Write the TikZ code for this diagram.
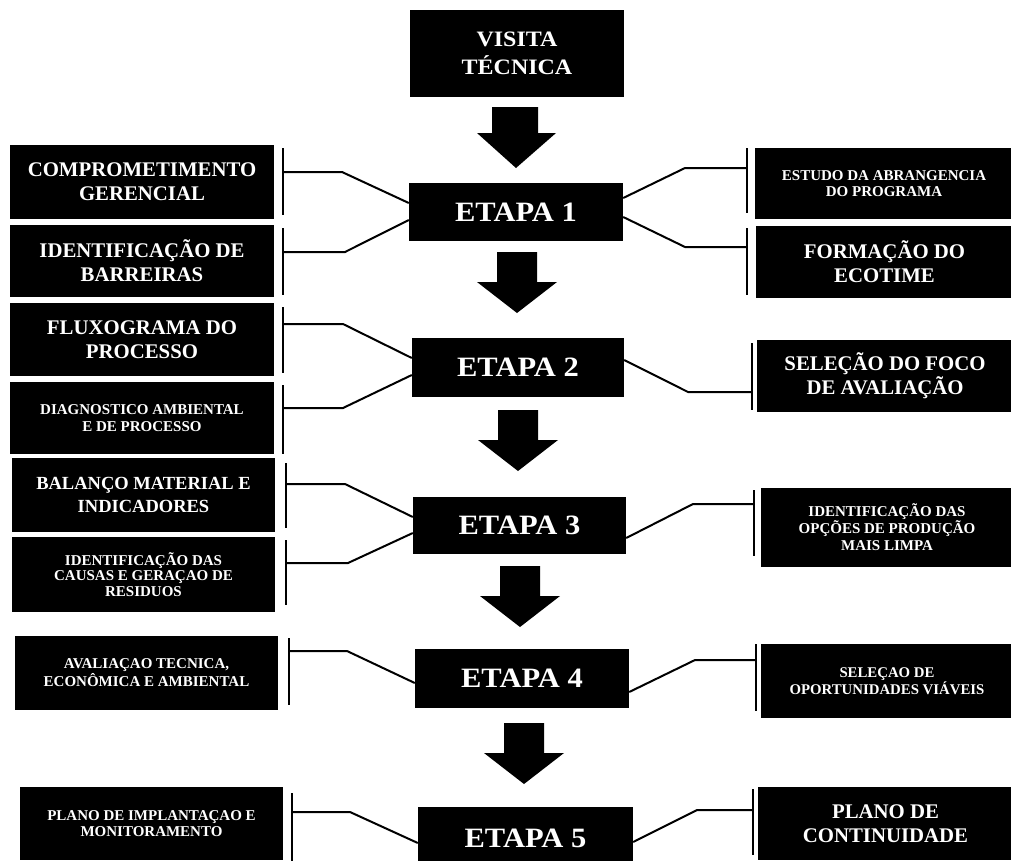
\documentclass[tikz,border=0pt]{standalone}
\usepackage{fontspec}
\setmainfont{Liberation Serif}
\newfontfamily\widefont{Liberation Serif}[FakeStretch=1.09]
\usetikzlibrary{calc}
\tikzset{
  blk/.style={fill=black, text=white, inner sep=0pt, align=center},
  etapa/.style={blk, font=\widefont\bfseries\fontsize{28}{32}\selectfont},
  big/.style={blk, font=\bfseries\fontsize{20.8}{24}\selectfont},
  small/.style={blk, font=\bfseries\fontsize{15}{17}\selectfont},
  conn/.style={line width=2pt, line join=miter},
  brk/.style={line width=2.6pt},
  pics/downarrow/.style={code={
    \fill (-20,0) -- (20,0) -- (20,30) -- (40,30) -- (0,61) -- (-40,30) -- (-20,30) -- cycle;}}
}
\begin{document}
\begin{tikzpicture}[x=1pt,y=-1pt]
\useasboundingbox (0,0) rectangle (1011,860);

% central column
\node[blk, font=\widefont\bfseries\fontsize{22}{28}\selectfont, minimum width=214pt, minimum height=87pt] (vis) at (517,53.5) {VISITA\\TÉCNICA};
\node[etapa, minimum width=214pt, minimum height=58pt] (e1) at (516,212) {ETAPA 1};
\node[etapa, minimum width=212pt, minimum height=59pt] (e2) at (518,367.5) {ETAPA 2};
\node[etapa, minimum width=213pt, minimum height=57pt] (e3) at (519.5,525.5) {ETAPA 3};
\node[etapa, minimum width=214pt, minimum height=59pt] (e4) at (522,678.5) {ETAPA 4};
\node[etapa, minimum width=215pt, minimum height=63pt] (e5) at (525.5,838.5) {ETAPA 5};

% block arrows
\fill (492,107) -- (538,107) -- (538,133) -- (556,133) -- (516,168) -- (477,133) -- (492,133) -- cycle;
\pic at (517,252) {downarrow};
\pic at (518,410) {downarrow};
\pic at (520,566) {downarrow};
\pic at (524,723) {downarrow};

% left boxes
\node[big, minimum width=264pt, minimum height=74pt] (l1a) at (142,182) {COMPROMETIMENTO\\GERENCIAL};
\node[big, minimum width=264pt, minimum height=72pt] (l1b) at (142,261) {IDENTIFICAÇÃO DE\\BARREIRAS};
\node[big, minimum width=264pt, minimum height=73pt] (l2a) at (142,339.5) {FLUXOGRAMA DO\\PROCESSO};
\node[small, minimum width=264pt, minimum height=72pt] (l2b) at (142,418) {DIAGNOSTICO AMBIENTAL\\E DE PROCESSO};
\node[blk, font=\bfseries\fontsize{18.5}{23}\selectfont, minimum width=263pt, minimum height=74pt] (l3a) at (143.5,495) {BALANÇO MATERIAL E\\INDICADORES};
\node[blk, font=\bfseries\fontsize{15}{15.5}\selectfont, minimum width=263pt, minimum height=75pt] (l3b) at (143.5,574.5) {IDENTIFICAÇÃO DAS\\CAUSAS E GERAÇAO DE\\RESIDUOS};
\node[blk, font=\bfseries\fontsize{15}{18}\selectfont, minimum width=263pt, minimum height=74pt] (l4) at (146.5,673) {AVALIAÇAO TECNICA,\\ECONÔMICA E AMBIENTAL};
\node[blk, font=\bfseries\fontsize{15}{16}\selectfont, minimum width=263pt, minimum height=73pt] (l5) at (151.5,823.5) {PLANO DE IMPLANTAÇAO E\\MONITORAMENTO};

% right boxes
\node[blk, font=\bfseries\fontsize{15}{16.5}\selectfont, minimum width=258pt, minimum height=71pt] (r1a) at (884,183.5) {ESTUDO DA ABRANGENCIA\\DO PROGRAMA};
\node[big, minimum width=257pt, minimum height=72pt] (r1b) at (884.5,262) {FORMAÇÃO DO\\ECOTIME};
\node[big, minimum width=256pt, minimum height=72pt] (r2) at (885,376) {SELEÇÃO DO FOCO\\DE AVALIAÇÃO};
\node[blk, font=\bfseries\fontsize{15}{17}\selectfont, minimum width=252pt, minimum height=79pt] (r3) at (887,527.5) {IDENTIFICAÇÃO DAS\\OPÇÕES DE PRODUÇÃO\\MAIS LIMPA};
\node[blk, font=\bfseries\fontsize{14.8}{16.5}\selectfont, minimum width=252pt, minimum height=74pt] (r4) at (887,681) {SELEÇAO DE\\OPORTUNIDADES VIÁVEIS};
\node[big, minimum width=255pt, minimum height=73pt] (r5) at (885.5,823.5) {PLANO DE\\CONTINUIDADE};

% brackets (free ends of connectors)
\coordinate (b1a) at (283,172);
\coordinate (b1b) at (283,252);
\coordinate (b2a) at (283,324);
\coordinate (b2b) at (283,408);
\coordinate (b3a) at (286,484);
\coordinate (b3b) at (286,563);
\coordinate (b4)  at (289,651);
\coordinate (b5)  at (292,812);
\coordinate (c1a) at (747,168);
\coordinate (c1b) at (747,247);
\coordinate (c2)  at (752,392);
\coordinate (c3)  at (754,504);
\coordinate (c4)  at (756,660);
\coordinate (c5)  at (753,810);

\draw[brk] (283,148) -- (283,215);
\draw[brk] (283,228) -- (283,295);
\draw[brk] (283,307) -- (283,373);
\draw[brk] (283,385) -- (283,454);
\draw[brk] (286,463) -- (286,528);
\draw[brk] (286,540) -- (286,605);
\draw[brk] (289,638) -- (289,705);
\draw[brk] (292,793) -- (292,862);
\draw[brk] (747,148) -- (747,213);
\draw[brk] (747,228) -- (747,295);
\draw[brk] (752,343) -- (752,410);
\draw[brk] (754,490) -- (754,556);
\draw[brk] (756,644) -- (756,711);
\draw[brk] (753,789) -- (753,855);

% connectors left
\draw[conn] ($(e1.west)+(0,-9)$) -- (342,172) -- (b1a);
\draw[conn] ($(e1.west)+(0,8)$) -- (345,252) -- (b1b);
\draw[conn] ($(e2.west)+(0,-9.5)$) -- (343,324) -- (b2a);
\draw[conn] ($(e2.west)+(0,7.5)$) -- (343,408) -- (b2b);
\draw[conn] ($(e3.west)+(0,-8.5)$) -- (345,484) -- (b3a);
\draw[conn] ($(e3.west)+(0,7.5)$) -- (348,563) -- (b3b);
\draw[conn] ($(e4.west)+(0,4.5)$) -- (347,651) -- (b4);
\draw[conn] ($(e5.west)+(0,4.5)$) -- (350,812) -- (b5);

% connectors right
\draw[conn] ($(e1.east)+(0,-14)$) -- (685,168) -- (c1a);
\draw[conn] ($(e1.east)+(0,5)$) -- (685,247) -- (c1b);
\draw[conn] ($(e2.east)+(0,-7.5)$) -- (688,392) -- (c2);
\draw[conn] ($(e3.east)+(0,12.5)$) -- (693,504) -- (c3);
\draw[conn] ($(e4.east)+(0,13.5)$) -- (695,660) -- (c4);
\draw[conn] ($(e5.east)+(0,3.5)$) -- (697,810) -- (c5);
\end{tikzpicture}
\end{document}
